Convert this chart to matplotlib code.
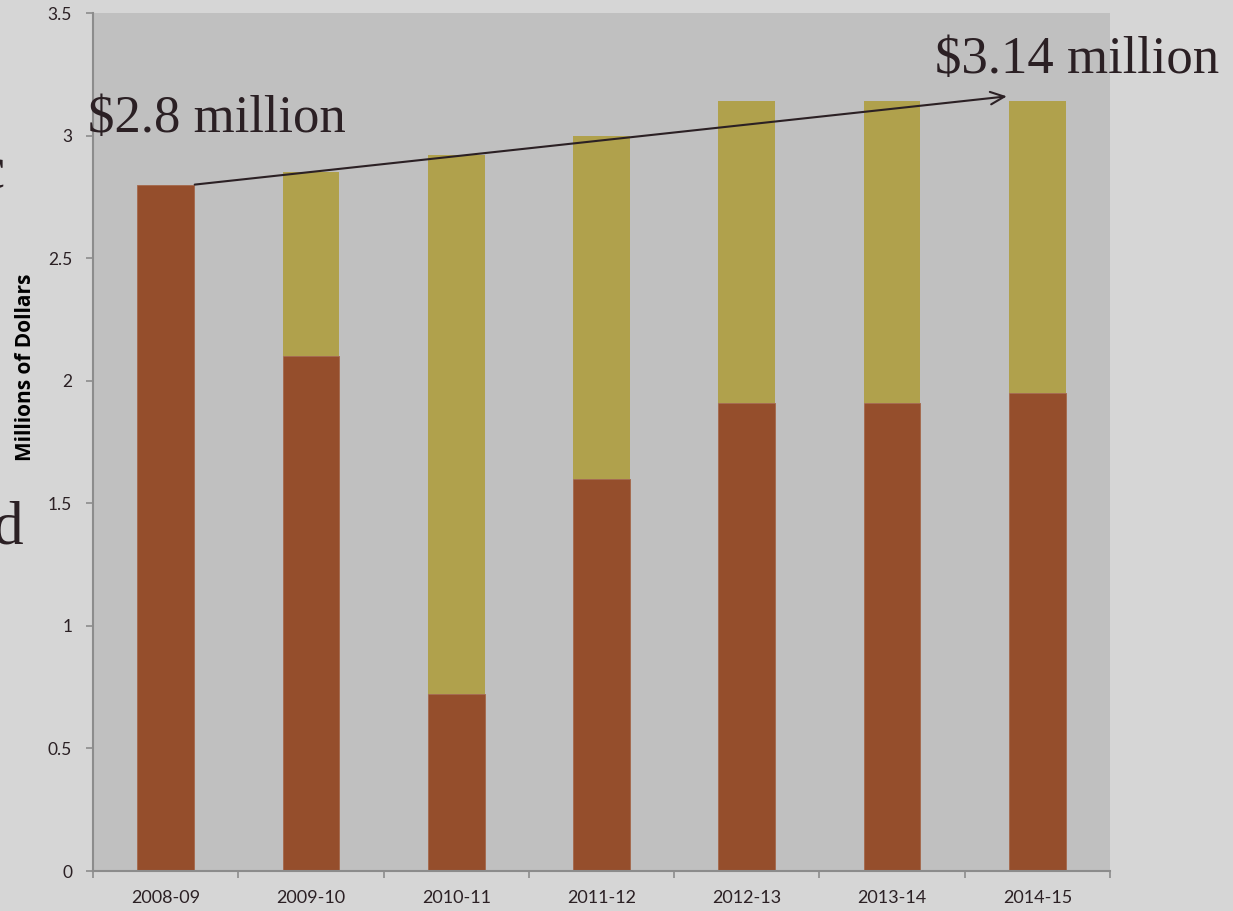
import matplotlib
matplotlib.use("Agg")
import matplotlib.pyplot as plt
import numpy as np

categories = ["2008-09", "2009-10", "2010-11", "2011-12", "2012-13", "2013-14", "2014-15"]
brown_vals = [2.80, 2.10, 0.72, 1.60, 1.91, 1.91, 1.95]
olive_vals = [0.00, 0.75, 2.20, 1.40, 1.23, 1.23, 1.19]
y_ticks = [0, 0.5, 1, 1.5, 2, 2.5, 3, 3.5]
y_tick_labels = ["0", "0.5", "1", "1.5", "2", "2.5", "3", "3.5"]
start_label = "$2.8 million"
end_label = "$3.14 million"
start_value = 2.80
end_value = 3.16

BG = "#d6d6d6"
PLOT_BG = "#c0c0c0"
BROWN = "#954e2c"
OLIVE = "#b0a14c"
TEXT = "#2b2024"
SPINE = "#8c8c8c"

fig = plt.figure(figsize=(12.33, 9.11), dpi=100, facecolor=BG)
ax = fig.add_axes([93/1233, 40/911, (1110-93)/1233, (871-13)/911])
ax.set_facecolor(PLOT_BG)

x = np.arange(len(categories))
w = 0.39
ax.bar(x, brown_vals, width=w, color=BROWN, edgecolor="#a5684a", linewidth=0.6, zorder=2)
ax.bar(x, olive_vals, width=w, bottom=brown_vals, color=OLIVE, linewidth=0, zorder=2)

ax.set_xlim(-0.5, len(categories) - 0.5)
ax.set_ylim(0, 3.5)

ax.set_yticks(y_ticks)
ax.set_yticklabels(y_tick_labels, fontsize=12.5, color=TEXT, fontfamily="Lato")
ax.tick_params(axis="y", length=5, width=1.2, color=SPINE, pad=10)

ax.set_xticks(x)
ax.set_xticklabels(categories, fontsize=13, color=TEXT, fontfamily="Lato")
ax.set_xticks(np.arange(-0.5, len(categories)), minor=True)
ax.tick_params(axis="x", which="major", length=0, pad=14)
ax.tick_params(axis="x", which="minor", length=5, width=1.2, color=SPINE)

for s in ["top", "right"]:
    ax.spines[s].set_visible(False)
for s in ["left", "bottom"]:
    ax.spines[s].set_color(SPINE)
    ax.spines[s].set_linewidth(1.5)

ax.set_ylabel("Millions of Dollars", fontsize=15, fontweight="bold", color="black",
              fontfamily="Open Sans")
ax.yaxis.set_label_coords((36 - 93) / 1017, (871 - 367) / 858)

# trend arrow
ax.annotate("", xy=(5.79, end_value), xytext=(0.2, start_value),
            arrowprops=dict(arrowstyle="->,head_length=1.0,head_width=0.45",
                            color=TEXT, lw=1.5, shrinkA=0, shrinkB=0), zorder=4)

fig.text(88/1233, 1 - 132/911, start_label, fontsize=38, fontfamily="Liberation Serif",
         color=TEXT, ha="left", va="baseline", zorder=5)
fig.text(1219/1233, 1 - 73/911, end_label, fontsize=38, fontfamily="Liberation Serif",
         color=TEXT, ha="right", va="baseline", zorder=5)

# cropped slide text at the left edge
fig.text(23/1233, 1 - 543/911, "d", fontsize=44, fontfamily="Liberation Serif",
         color=TEXT, ha="right", va="baseline")
fig.text(5/1233, 1 - 187/911, "c", fontsize=44, fontfamily="Liberation Serif",
         color=TEXT, ha="right", va="baseline")

fig.savefig("out.png", dpi=100, facecolor=BG)
